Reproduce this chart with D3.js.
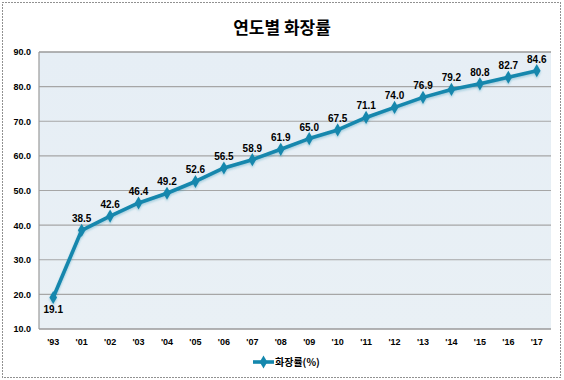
<!DOCTYPE html>
<html><head><meta charset="utf-8">
<script src="https://cdn.jsdelivr.net/npm/d3@7"></script>
<style>
body{margin:0;background:#fff;}
svg{display:block;font-family:"Noto Sans CJK KR","Noto Sans",sans-serif;}
</style></head><body>
<svg id="c" width="564" height="380"></svg>
<script>
const categories = ["'93","'01","'02","'03","'04","'05","'06","'07","'08","'09","'10","'11","'12","'13","'14","'15","'16","'17"];
const values = [19.1,38.5,42.6,46.4,49.2,52.6,56.5,58.9,61.9,65.0,67.5,71.1,74.0,76.9,79.2,80.8,82.7,84.6];
const yTicks = [10,20,30,40,50,60,70,80,90];
const title = "연도별 화장률";
const seriesName = "화장률(%)";

const svg = d3.select("#c");
const L=39, R=551, T=52, B=329;
const color="#1487ad";

// outer dotted border
svg.append("rect").attr("x",2.5).attr("y",2.5).attr("width",558).attr("height",375)
  .attr("fill","none").attr("stroke","#222").attr("stroke-dasharray","1,2");

const defs=svg.append("defs");
const g1=defs.append("linearGradient").attr("id","bg").attr("x1",0).attr("y1",0).attr("x2",0).attr("y2",1);
g1.append("stop").attr("offset","0").attr("stop-color","#e6eef5");
g1.append("stop").attr("offset","1").attr("stop-color","#e9f0f5");
const f=defs.append("filter").attr("id","sh").attr("x","-10%").attr("y","-30%").attr("width","120%").attr("height","160%");
f.append("feDropShadow").attr("dx",0).attr("dy",1.5).attr("stdDeviation",1.2).attr("flood-color","#1487ad").attr("flood-opacity",0.35);

svg.append("text").attr("x",282).attr("y",34).attr("text-anchor","middle")
  .attr("font-size",17).attr("font-weight","bold").attr("fill","#000").text(title);

const x=d3.scaleBand().domain(categories).range([L,R]);
const y=d3.scaleLinear().domain([10,90]).range([B,T]);

svg.append("rect").attr("x",L).attr("y",T).attr("width",R-L).attr("height",B-T).attr("fill","url(#bg)");

// gridlines
svg.append("g").selectAll("line").data(yTicks).join("line")
  .attr("x1",L).attr("x2",R).attr("y1",d=>y(d)).attr("y2",d=>y(d))
  .attr("stroke",d=>(d===90||d===10)?"#9a9a9a":"#a6a6a6").attr("stroke-width",d=>(d===90||d===10)?1.6:1.1);
svg.append("line").attr("x1",L).attr("x2",L).attr("y1",T).attr("y2",B).attr("stroke","#9a9a9a").attr("stroke-width",1.2);

// y axis labels
const ya=svg.append("g").attr("transform",`translate(${L-8},0)`)
  .call(d3.axisLeft(y).tickValues(yTicks).tickFormat(d3.format(".1f")).tickSize(0).tickPadding(0));
ya.select(".domain").remove();
ya.selectAll("text").attr("font-size",9).attr("font-weight","bold").attr("fill","#000").attr("font-family","Liberation Sans, Arial, sans-serif");

// x axis labels
const xa=svg.append("g").attr("transform",`translate(0,${B+10})`)
  .call(d3.axisBottom(x).tickSize(0).tickPadding(0));
xa.select(".domain").remove();
xa.selectAll("text").attr("font-size",9).attr("font-weight","bold").attr("fill","#000").attr("font-family","Liberation Sans, Arial, sans-serif");

const cx=d=>x(d)+x.bandwidth()/2;
const line=d3.line().x((d,i)=>cx(categories[i])).y(d=>y(d));
const lg=svg.append("g").attr("filter","url(#sh)");
lg.append("path").datum(values).attr("d",line).attr("fill","none").attr("stroke",color).attr("stroke-width",3.6).attr("stroke-linejoin","round");
const diamond=d3.symbol().type(d3.symbolDiamond).size(50);
lg.selectAll(".m").data(values).join("path").attr("class","m")
  .attr("transform",(d,i)=>`translate(${cx(categories[i])},${y(d)})`).attr("d",diamond).attr("fill",color);

// labels
svg.append("g").selectAll("text").data(values).join("text")
  .attr("x",(d,i)=>cx(categories[i])).attr("y",(d,i)=>i===0?y(d)+16:y(d)-8)
  .attr("text-anchor","middle").attr("font-size",10).attr("font-weight","bold")
  .attr("font-family","Liberation Sans, Arial, sans-serif").attr("fill","#000")
  .text(d=>d.toFixed(1));

// legend
const lgd=svg.append("g");
lgd.append("line").attr("x1",253).attr("x2",274).attr("y1",362).attr("y2",362).attr("stroke",color).attr("stroke-width",3.6);
lgd.append("path").attr("transform","translate(263.5,362)").attr("d",diamond).attr("fill",color);
lgd.append("text").attr("x",275).attr("y",366).attr("font-size",10).attr("font-weight","bold").attr("fill","#000").text(seriesName);
</script>
</body></html>
